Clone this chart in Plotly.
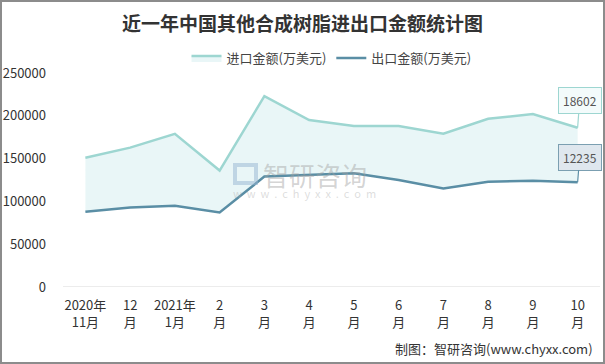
import plotly.graph_objects as go

categories = ["2020年<br>11月", "12<br>月", "2021年<br>1月", "2<br>月", "3<br>月", "4<br>月",
              "5<br>月", "6<br>月", "7<br>月", "8<br>月", "9<br>月", "10<br>月"]
import_vals = [151000, 162800, 179000, 136000, 223000, 195000, 188000, 188000, 179000, 196500, 202000, 186020]
export_vals = [88000, 93000, 95000, 87000, 129000, 131000, 133000, 125000, 115000, 123000, 124000, 122350]
import_label = "18602"
export_label = "12235"
y_ticks = [0, 50000, 100000, 150000, 200000, 250000]

W, H = 605, 364
L, R, T, B = 63, 5, 73, 77
pw = W - L - R
ph = H - T - B

imp_color = "#9dd6d1"
exp_color = "#5a8ea5"
fill_color = "rgba(221,241,242,0.65)"

fig = go.Figure()
xs = list(range(len(categories)))
fig.add_trace(go.Scatter(x=xs, y=export_vals, mode="lines", name="出口金额(万美元)",
                         line=dict(color=exp_color, width=2.5), legendrank=2))
fig.add_trace(go.Scatter(x=xs, y=import_vals, mode="lines", name="进口金额(万美元)",
                         line=dict(color=imp_color, width=2.5), fill="tonexty",
                         fillcolor=fill_color, legendrank=1))

font_main = "Microsoft YaHei, Noto Sans CJK SC, sans-serif"

def px_y(yp):
    return 1 - (yp - T) / ph

def px_x(xp):
    return (xp - L) / pw

fig.update_layout(
    width=W, height=H,
    margin=dict(l=L, r=R, t=T, b=B, autoexpand=False),
    paper_bgcolor="white", plot_bgcolor="white",
    font=dict(family=font_main, size=13, color="#333333"),
    title=dict(text="<b>近一年中国其他合成树脂进出口金额统计图</b>", x=0.5, xanchor="center",
               y=1 - 24 / H, yanchor="middle",
               font=dict(family="Noto Sans CJK SC, serif", size=19, color="#333333")),
    showlegend=True,
    legend=dict(orientation="h", x=0.5, xanchor="center", y=px_y(58), yanchor="middle",
                traceorder="normal",
                font=dict(size=13, color="#444444"), itemwidth=30, bgcolor="rgba(0,0,0,0)"),
    xaxis=dict(range=[-0.5, len(categories) - 0.5], tickmode="array", tickvals=xs,
               ticktext=categories, showgrid=False, zeroline=False, showline=False,
               ticks="", ticklabelstandoff=9,
               tickfont=dict(size=13, color="#333333"), automargin=False),
    yaxis=dict(range=[0, 250000], tickvals=y_ticks, ticktext=[str(v) for v in y_ticks],
               showgrid=False, zeroline=False, showline=False, ticks="",
               ticklabelstandoff=16, tickfont=dict(size=13, color="#333333"), automargin=False),
)

# baseline
fig.add_shape(type="line", xref="paper", yref="y", x0=0, x1=1, y0=0, y1=0,
              line=dict(color="#d9d9d9", width=1))

# outer border
fig.add_shape(type="rect", xref="paper", yref="paper",
              x0=px_x(1), x1=px_x(W - 1), y0=px_y(H - 1), y1=px_y(1),
              line=dict(color="#8c8c8c", width=2), fillcolor="rgba(0,0,0,0)", layer="above")

# callouts
last = len(categories) - 1
fig.add_annotation(x=last, y=import_vals[-1], text=import_label, showarrow=True,
                   arrowhead=0, arrowcolor=imp_color, arrowwidth=1.2, ax=2, ay=-27,
                   bgcolor="#f3fbfb", bordercolor=imp_color, borderwidth=1, borderpad=4,
                   font=dict(size=12, color="#555555"))
fig.add_annotation(x=last, y=export_vals[-1], text=export_label, showarrow=True,
                   arrowhead=0, arrowcolor=exp_color, arrowwidth=1.2, ax=2, ay=-25,
                   bgcolor="#dfe7ee", bordercolor="#7b9fb1", borderwidth=1, borderpad=4,
                   font=dict(size=12, color="#555555"))

# watermark
wm = "rgba(160,160,160,0.45)"
fig.add_annotation(xref="paper", yref="paper", x=px_x(261), y=px_y(174),
                   text="智研咨询", showarrow=False, xanchor="left", yanchor="middle",
                   font=dict(size=26, color=wm))
fig.add_annotation(xref="paper", yref="paper", x=px_x(231), y=px_y(193),
                   text="w  w  w  .  c  h  y  x  x  .  c  o  m", showarrow=False, xanchor="left",
                   yanchor="middle", font=dict(size=11, color="rgba(170,170,170,0.4)"))
logo = "rgba(150,180,210,0.5)"
fig.add_shape(type="rect", xref="paper", yref="paper",
              x0=px_x(235), x1=px_x(256), y0=px_y(183), y1=px_y(165),
              line=dict(color=logo, width=4), fillcolor="rgba(0,0,0,0)")

# source footer
fig.add_annotation(xref="paper", yref="paper", x=px_x(595), y=px_y(348),
                   text="制图：智研咨询(www.chyxx.com)", showarrow=False, xanchor="right",
                   yanchor="middle", font=dict(size=13, color="#333333"))

fig.write_html("out.html", config={"displayModeBar": False},
               post_script="document.body.style.margin='0';document.body.style.overflow='hidden';")
